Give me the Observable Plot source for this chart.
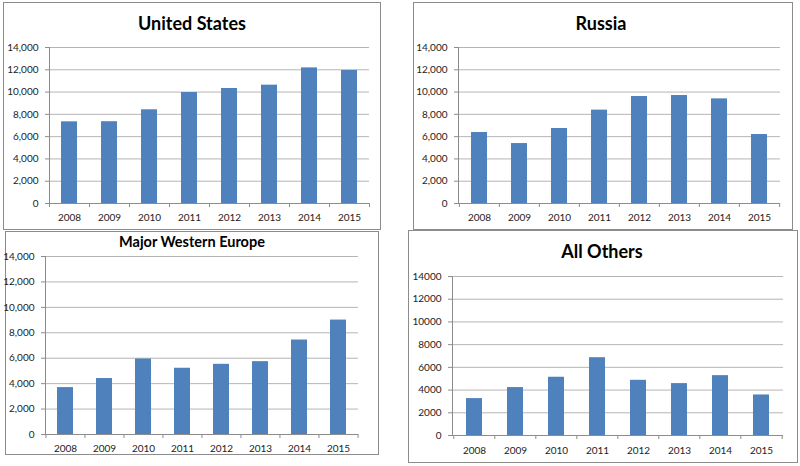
<!DOCTYPE html>
<html><head><meta charset="utf-8">
<script src="https://cdn.jsdelivr.net/npm/d3@7"></script>
<script src="https://cdn.jsdelivr.net/npm/@observablehq/plot@0.6"></script>
<style>
body{margin:0;background:#fff;}
#wrap{position:relative;width:800px;height:466px;overflow:hidden;font-family:Lato,sans-serif;background:#fff;}
.box{position:absolute;border:1px solid #8c8c8c;box-sizing:border-box;}
.title{position:absolute;font-weight:bold;color:#000;line-height:1;white-space:nowrap;transform:translate(-50%,-50%);}
.chart{position:absolute;overflow:visible;}
</style></head><body><div id="wrap"></div><script>
const years = ["2008", "2009", "2010", "2011", "2012", "2013", "2014", "2015"];
const unitedStates = [7330, 7340, 8410, 9960, 10320, 10620, 12170, 11940];
const russia = [6370, 5380, 6730, 8380, 9600, 9690, 9390, 6190];
const majorWesternEurope = [3690, 4400, 5940, 5210, 5520, 5730, 7430, 9000];
const allOthers = [3250, 4220, 5130, 6850, 4860, 4570, 5270, 3570];
const yTicks = [0, 2000, 4000, 6000, 8000, 10000, 12000, 14000];
const titles = ["United States", "Russia", "Major Western Europe", "All Others"];

// layout only: box [left, top, width, height], frame [left, top, right, bottom]
const panels = [
  {name: titles[0], values: unitedStates, box: [3, 2, 378, 228], frame: [49, 47, 369, 203], titleSize: 18, titleX: 192, titleY: 23, comma: true, pad: 10},
  {name: titles[1], values: russia, box: [413, 2, 380, 228], frame: [458, 47, 780, 203], titleSize: 18, titleX: 601, titleY: 23, comma: true, pad: 10},
  {name: titles[2], values: majorWesternEurope, box: [5, 231, 374, 224], frame: [45, 256, 358, 434], titleSize: 14.5, titleX: 192, titleY: 242, comma: true, pad: 10},
  {name: titles[3], values: allOthers, box: [408, 230, 390, 233], frame: [452, 276, 783, 435], titleSize: 18, titleX: 602, titleY: 251, comma: false, pad: 11}
];

const wrap = document.getElementById("wrap");
for (const p of panels) {
  const [bl, bt, bw, bh] = p.box;
  const [fl, ft, fr, fb] = p.frame;
  const box = document.createElement("div");
  box.className = "box";
  Object.assign(box.style, {left: bl + "px", top: bt + "px", width: bw + "px", height: bh + "px"});
  wrap.appendChild(box);

  const t = document.createElement("div");
  t.className = "title";
  t.textContent = p.name;
  Object.assign(t.style, {left: p.titleX + "px", top: p.titleY + "px", fontSize: p.titleSize + "px"});
  wrap.appendChild(t);

  const data = years.map((y, i) => ({year: y, value: p.values[i]}));
  const step = (fr - fl) / years.length;
  const fmt = p.comma ? d3.format(",") : d3.format("d");
  const chart = Plot.plot({
    width: bw, height: bh,
    marginLeft: fl - bl, marginRight: bl + bw - fr,
    marginTop: ft - bt, marginBottom: bt + bh - fb,
    style: {background: "transparent", fontFamily: "Lato, sans-serif", fontSize: "10px", color: "#222", overflow: "visible"},
    x: {type: "band", domain: years, paddingInner: 0.6, paddingOuter: 0.3, axis: null},
    y: {domain: [0, 14000], axis: null},
    marks: [
      Plot.ruleY(yTicks.slice(1), {stroke: "#b5b5b5", strokeWidth: 1}),
      Plot.barY(data, {x: "year", y: "value", fill: "#4f81bd"}),
      Plot.ruleY([0], {stroke: "#8c8c8c"}),
      Plot.frame({anchor: "left", stroke: "#8c8c8c"}),
      Plot.axisY(yTicks, {tickSize: 4, tickPadding: 7, tickFormat: fmt, stroke: "#8c8c8c", fill: "#222", fontSize: 10, label: null}),
      Plot.axisX(years, {tickSize: 0, tickPadding: p.pad, fill: "#222", fontSize: 10, label: null}),
      Plot.axisX(years, {tickSize: 4, tickFormat: () => "", dx: -step / 2, stroke: "#8c8c8c", label: null}),
      Plot.axisX([years[years.length - 1]], {tickSize: 4, tickFormat: () => "", dx: step / 2, stroke: "#8c8c8c", label: null})
    ]
  });
  chart.classList.add("chart");
  Object.assign(chart.style, {left: bl + "px", top: bt + "px"});
  wrap.appendChild(chart);
}
</script></body></html>
